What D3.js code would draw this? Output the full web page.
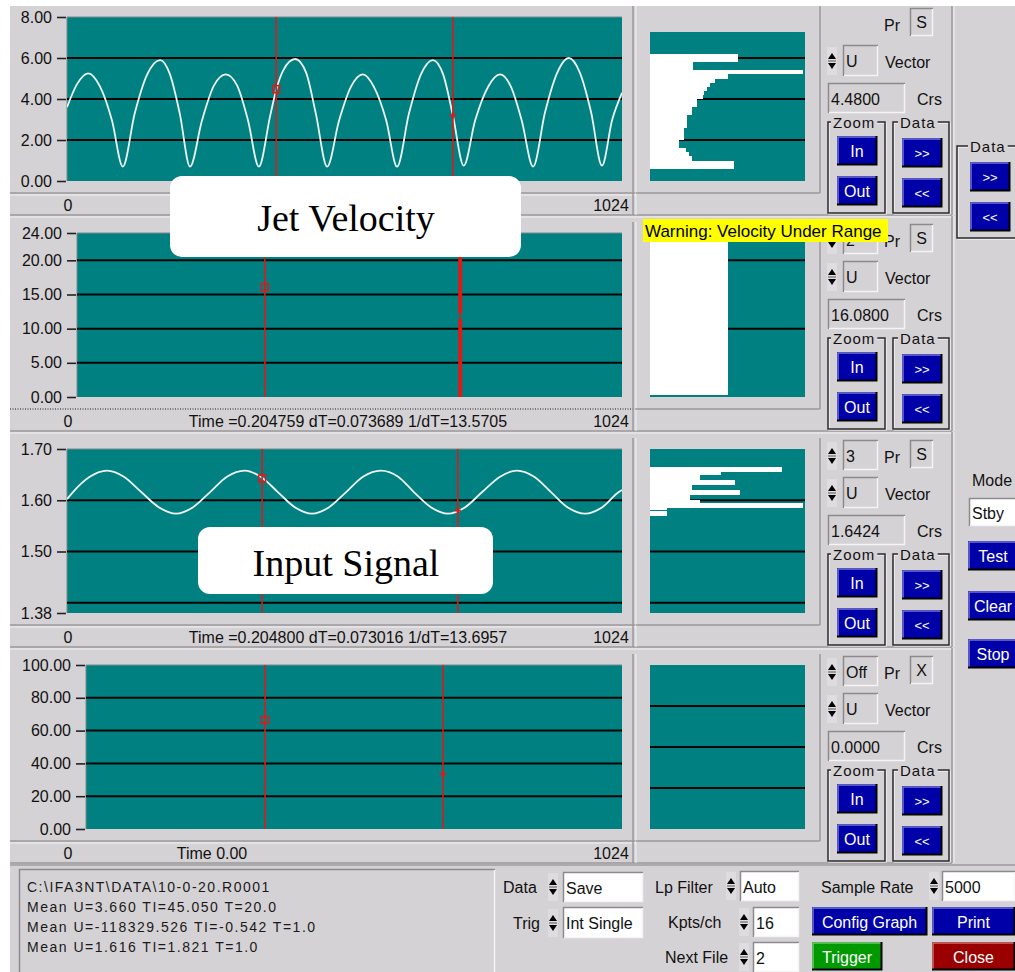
<!DOCTYPE html>
<html><head><meta charset="utf-8">
<script src="https://cdn.jsdelivr.net/npm/d3@7"></script>
<style>
body{margin:0;background:#fff;}
svg text{font-family:"Liberation Sans",Arial,sans-serif;}
</style></head><body>
<svg id="c" width="1015" height="972"></svg>
<script>
// ---------- DATA ----------
const sampleDomain = [0, 1024];
const jetSamples = [0,18,39,61,83,103,125,148,172,190,208,227,249,271,293,314,334,354,375,386,399,421,441,459,480,502,524,546,566,589,609,631,653,675,694,712,732,753,777,799,819,839,860,882,904,926,946,967,987,1006,1024];
const jetVelocity = [3.6,4.7,5.25,4.6,2.95,0.7,3.3,5.2,5.9,5.2,3.3,0.7,2.95,4.65,5.2,4.65,2.95,0.7,3.2,4.45,5.4,5.95,5.3,3.3,0.7,2.95,4.6,5.2,4.6,2.95,0.7,3.3,5.2,5.9,5.2,3.2,0.75,2.95,4.6,5.2,4.6,2.95,0.7,3.35,5.25,6.0,5.3,3.35,0.75,3.0,4.3];
const inputSamples = [0,11,42,74,105,137,170,201,232,264,295,328,360,389,421,452,483,515,546,579,611,640,672,703,734,766,799,830,862,893,924,956,987,1018,1024];
const inputSignal = [1.602,1.616,1.646,1.658,1.646,1.616,1.586,1.574,1.586,1.616,1.646,1.658,1.644,1.616,1.586,1.574,1.586,1.616,1.646,1.658,1.646,1.616,1.586,1.574,1.586,1.616,1.646,1.658,1.646,1.616,1.586,1.574,1.586,1.616,1.620];

const yDomains = [[0,8],[0,24],[1.38,1.70],[0,100]];
const yTickValues = [[0,2,4,6,8],[0,5,10,15,20,24],[1.38,1.5,1.6,1.7],[0,20,40,60,80,100]];
const gridValues = [[2,4,6],[5,10,15,20],[1.4,1.5,1.6],[20,40,60,80]];
const histGridValues = [[2,4,6],[10,20],[1.4,1.5,1.6],[25,50,75]];
const histDomains = [[0,8],[0,24],[1.38,1.70],[0,100]];
const xTickValues = [0, 1024];

const cursorA = [386, 353, 360, 342];
const cursorAValue = [4.48, 16.08, 1.6424, 66.5];
const cursorB = [712, 720, 721, 682];
const cursorBValue = [3.2, null, 1.58, 33.5];
const cursorB2Thick = [[0, 11.4], [12.2, 20.6]];

const hist1BinStart = [0.6,0.8,1.0,1.2,1.4,1.6,1.8,2.0,2.2,2.4,2.6,2.8,3.0,3.2,3.4,3.6,3.8,4.0,4.2,4.4,4.6,4.8,5.0,5.2,5.4,5.6,5.8,6.0];
const hist1Counts = [54,54,27,25,23,19,19,22,22,22,24,24,24,27,27,30,30,34,35,37,39,42,50,99,28,28,57,57];
const hist1BinWidth = 0.2;
const hist2BinStart = [0.3];
const hist2BinEnd = [24];
const hist2Counts = [50];
const hist3BinStart = [1.570,1.575,1.580,1.585,1.590,1.595,1.600,1.605,1.610,1.615,1.620,1.625,1.630,1.635,1.640,1.645,1.650,1.655,1.660];
const hist3Counts = [11,11,11,99,99,32,26,26,58,58,27,27,55,55,32,32,46,85,85];
const hist3BinWidth = 0.005;

const timeLabels = ["", "Time =0.204759 dT=0.073689  1/dT=13.5705", "Time =0.204800 dT=0.073016  1/dT=13.6957", "Time 0.00"];
const channelNumbers = [null, "2", "3", "Off"];
const prFlags = ["S", "S", "S", "X"];
const cursorReadouts = ["4.4800", "16.0800", "1.6424", "0.0000"];
const statusLines = ["C:\\IFA3NT\\DATA\\10-0-20.R0001", "Mean U=3.660 TI=45.050 T=20.0", "Mean U=-118329.526 TI=-0.542 T=1.0", "Mean U=1.616 TI=1.821 T=1.0"];

// ---------- DRAW ----------
const svg = d3.select("#c");
const BG = "#d5d2d5", TEAL = "#008080", RED = "#e01818", BLUE = "#0000a8";
const SERIF = "'Liberation Serif','Times New Roman',serif";
svg.append("rect").attr("width",1015).attr("height",972).attr("fill","#fff");
svg.append("rect").attr("x",10).attr("y",6).attr("width",1005).attr("height",966).attr("fill",BG);

function hline(x1,x2,y,c,w,dash){const l=svg.append("line").attr("x1",x1).attr("x2",x2).attr("y1",y).attr("y2",y).attr("stroke",c).attr("stroke-width",w||1); if(dash) l.attr("stroke-dasharray",dash); return l;}
function vline(x,y1,y2,c,w){return svg.append("line").attr("x1",x).attr("x2",x).attr("y1",y1).attr("y2",y2).attr("stroke",c).attr("stroke-width",w||1);}
function txt(x,y,s,opt){opt=opt||{};const t=svg.append("text").attr("x",x).attr("y",y).attr("dominant-baseline","central").attr("text-anchor",opt.anchor||"start").attr("font-size",opt.size||16).attr("fill",opt.fill||"#111").attr("letter-spacing",opt.ls||0).text(s); if(opt.family) t.style("font-family",opt.family); return t;}
function field(x,y,w,h,s,fill){
  svg.append("rect").attr("x",x).attr("y",y).attr("width",w).attr("height",h).attr("fill",fill||BG);
  svg.append("path").attr("d",`M${x+0.5},${y+h}V${y+0.5}H${x+w}`).attr("fill","none").attr("stroke","#8c8a8c").attr("stroke-width",1.5);
  svg.append("path").attr("d",`M${x+1},${y+h-0.5}H${x+w-0.5}V${y+1}`).attr("fill","none").attr("stroke","#f4f4f4").attr("stroke-width",1.5);
  if(s!=null) txt(x+3,y+h/2+1,s);
}
function button(x,y,w,h,s,fill,size){
  svg.append("rect").attr("x",x).attr("y",y).attr("width",w).attr("height",h).attr("fill",fill);
  svg.append("path").attr("d",`M${x+1},${y+h-1}V${y+1}H${x+w-1}`).attr("fill","none").attr("stroke","rgba(255,255,255,0.45)").attr("stroke-width",1.5);
  svg.append("path").attr("d",`M${x},${y+h-0.5}H${x+w-0.5}V${y}`).attr("fill","none").attr("stroke","#000").attr("stroke-width",2);
  txt(x+w/2,y+h/2+1,s,{anchor:"middle",fill:"#fff",size:size||16});
}
function spinner(cx,cy){
  svg.append("rect").attr("x",cx-5).attr("y",cy-14).attr("width",10).attr("height",28).attr("fill","#dedcde");
  svg.append("path").attr("d",`M${cx-4},${cy-2}L${cx},${cy-8}L${cx+4},${cy-2}Z`).attr("fill","#000");
  svg.append("path").attr("d",`M${cx-4},${cy+2}L${cx},${cy+8}L${cx+4},${cy+2}Z`).attr("fill","#000");
  hline(cx-4,cx+4,cy,"#555",1);
}
function group(x,y,w,h,title,tx){
  svg.append("rect").attr("x",x+1).attr("y",y+1).attr("width",w).attr("height",h).attr("fill","none").attr("stroke","#fff").attr("stroke-width",1);
  svg.append("rect").attr("x",x).attr("y",y).attr("width",w).attr("height",h).attr("fill","none").attr("stroke","#2a2a2a").attr("stroke-width",1.5);
  const t = txt(tx,y,title,{size:15,ls:1});
  const bb = t.node().getBBox();
  svg.insert("rect", () => t.node()).attr("x",bb.x-2).attr("y",y-3).attr("width",bb.width+4).attr("height",7).attr("fill",BG);
}

for(let i=0;i<4;i++){
  const off = 216*i;
  const left = [67,77,67,86][i];
  const x = d3.scaleLinear().domain(sampleDomain).range([left,622]);
  const y = d3.scaleLinear().domain(yDomains[i]).range([off+181, off+17]);

  // panel frame lines
  if(i===1) hline(10,636,off+193,"#555",1.5,"1,1.5"); else { hline(10,636,off+193,"#9a989a",1.5); hline(10,636,off+195,"#f2f2f2",1); }
  hline(10,952,off+215,"#9a989a",1.5); hline(10,952,off+217,"#f2f2f2",1);
  vline(633,off+6,off+215,"#9a989a",1.5); vline(636,off+6,off+215,"#f2f2f2",1);
  vline(820,off+6,off+193,"#9a989a",1.5); hline(636,820,off+193,"#9a989a",1.5);
  vline(952,off+(i===0?6:0),off+215,"#9a989a",1.5); vline(954,off+(i===0?6:0),off+215,"#f2f2f2",1);

  // plot area
  svg.append("rect").attr("x",left).attr("y",off+17).attr("width",622-left).attr("height",164).attr("fill",TEAL);
  svg.append("path").attr("d",`M${left},${off+181}V${off+17}H${622}`).attr("fill","none").attr("stroke","#7a8a8a").attr("stroke-width",1);
  const g = svg.append("g");
  g.selectAll("line.grid").data(gridValues[i]).join("line").attr("x1",left).attr("x2",622)
    .attr("y1",d=>y(d)).attr("y2",d=>y(d)).attr("stroke","#050505").attr("stroke-width",2);

  // y axis
  const ax = svg.append("g").attr("transform",`translate(${left-1},0)`)
    .call(d3.axisLeft(y).tickValues(yTickValues[i]).tickFormat(d3.format(".2f")).tickSize(9).tickPadding(5));
  ax.select(".domain").remove();
  ax.selectAll(".tick line").attr("stroke","#222").attr("stroke-width",1.6);
  ax.selectAll(".tick text").attr("font-size",16).attr("fill","#111");

  // x labels row
  const xl = d3.scaleLinear().domain(sampleDomain).range([68,611]);
  svg.selectAll(null).data(xTickValues).join("text").attr("x",d=>xl(d)).attr("y",off+205).attr("dominant-baseline","central")
    .attr("text-anchor","middle").attr("font-size",16).attr("fill","#111").text(d=>d);
  if(timeLabels[i]) txt(i===3?212:348, off+205, timeLabels[i], {anchor:"middle"});

  // clip
  const cid = "clip"+i;
  svg.append("clipPath").attr("id",cid).append("rect").attr("x",left).attr("y",off+17).attr("width",622-left).attr("height",164);
  const line = d3.line().x(d=>x(d[0])).y(d=>y(d[1])).curve(d3.curveMonotoneX);
  if(i===0) svg.append("path").attr("clip-path",`url(#${cid})`).datum(d3.zip(jetSamples,jetVelocity)).attr("d",line).attr("fill","none").attr("stroke","#eef4f2").attr("stroke-width",1.8);
  if(i===2) svg.append("path").attr("clip-path",`url(#${cid})`).datum(d3.zip(inputSamples,inputSignal)).attr("d",line).attr("fill","none").attr("stroke","#eef4f2").attr("stroke-width",1.8);

  // cursors
  vline(x(cursorA[i]),off+17,off+181,RED,1.6);
  svg.append("rect").attr("x",x(cursorA[i])-3.5).attr("y",y(cursorAValue[i])-3.5).attr("width",7).attr("height",7)
    .attr("fill","none").attr("stroke",RED).attr("stroke-width",1.5);
  vline(x(cursorB[i]),off+17,off+181,RED,1.6);
  if(cursorBValue[i]!=null){
    const bx=x(cursorB[i]), by=y(cursorBValue[i]);
    svg.append("path").attr("d",`M${bx-3},${by}H${bx+3}M${bx},${by-3}V${by+3}`).attr("stroke",RED).attr("stroke-width",2);
  } else {
    svg.selectAll(null).data(cursorB2Thick).join("rect").attr("x",x(cursorB[i])-2).attr("width",4)
      .attr("y",d=>y(d[1])).attr("height",d=>y(d[0])-y(d[1])).attr("fill",RED);
  }

  // histogram
  const hTop = i===0 ? off+32 : off+17;
  const hx = d3.scaleLinear().domain([0,100]).range([0,155]);
  const hy = d3.scaleLinear().domain(histDomains[i]).range([off+181, off+17]);
  svg.append("rect").attr("x",650).attr("y",hTop).attr("width",155).attr("height",off+181-hTop).attr("fill",TEAL);
  svg.selectAll(null).data(histGridValues[i]).join("line").attr("x1",650).attr("x2",805)
    .attr("y1",d=>hy(d)).attr("y2",d=>hy(d)).attr("stroke","#050505").attr("stroke-width",2);
  let bins = [];
  if(i===0) bins = hist1BinStart.map((b,k)=>({lo:b,hi:b+hist1BinWidth,c:hist1Counts[k]}));
  if(i===1) bins = hist2BinStart.map((b,k)=>({lo:b,hi:hist2BinEnd[k],c:hist2Counts[k]}));
  if(i===2) bins = hist3BinStart.map((b,k)=>({lo:b,hi:b+hist3BinWidth,c:hist3Counts[k]}));
  const yTopOf = d => Math.round(Math.max(hTop,hy(d.hi)));
  svg.selectAll(null).data(bins).join("rect").attr("x",650).attr("y",yTopOf).attr("width",d=>Math.round(hx(d.c)))
    .attr("height",d=>Math.round(hy(d.lo))-yTopOf(d)).attr("fill","#fff").attr("shape-rendering","crispEdges");

  // controls
  if(channelNumbers[i]!=null){ spinner(832,off+24); field(843,off+8,35,30,channelNumbers[i]); }
  txt(884,off+25,"Pr");
  field(910,off+8,23,28,null); txt(921.5,off+22,prFlags[i],{anchor:"middle"});
  spinner(832,off+61); field(843,off+45,35,31,"U"); 
  txt(885,off+62,"Vector");
  field(828,off+83,77,30,cursorReadouts[i]);
  txt(917,off+99,"Crs");
  group(828,off+122,57,91,"Zoom",833);
  button(837,off+136,40,29,"In",BLUE);
  button(837,off+176,40,29,"Out",BLUE);
  group(893,off+122,56,91,"Data",900);
  button(902,off+138,40,29,">>",BLUE,13);
  button(902,off+178,40,29,"<<",BLUE,13);
}

// far-right controls
group(957,146,70,92,"Data",970);
button(970,162,40,29,">>",BLUE,13);
button(970,202,40,29,"<<",BLUE,13);
txt(972,480,"Mode");
field(969,498,50,28,"Stby","#fff");
button(968,541,50,29,"Test",BLUE);
button(968,591,50,29,"Clear",BLUE);
button(968,639,50,29,"Stop",BLUE);

// callouts
svg.append("rect").attr("x",170).attr("y",176).attr("width",351).attr("height",81).attr("rx",12).attr("fill","#fff");
txt(346,218,"Jet Velocity",{anchor:"middle",size:38,family:SERIF,fill:"#000"});
svg.append("rect").attr("x",198).attr("y",527).attr("width",295).attr("height",67).attr("rx",12).attr("fill","#fff");
txt(346,563,"Input Signal",{anchor:"middle",size:38,family:SERIF,fill:"#000"});

// warning
svg.append("rect").attr("x",643).attr("y",219).attr("width",245).attr("height",23).attr("fill","#ffff00");
txt(645,231,"Warning: Velocity Under Range",{size:17,fill:"#000"});

// bottom area
hline(10,1015,865,"#9a989a",1.5);
field(19,869,476,110,null);
statusLines.forEach((s,k)=>txt(27,887+20*k,s,{size:14,ls:1.5,fill:"#1a1a1a"}));
txt(503,887,"Data"); spinner(553,887); field(563,872,80,30,"Save","#fff");
txt(513,923,"Trig"); spinner(553,923); field(563,907,80,31,"Int Single","#fff");
txt(655,887,"Lp Filter"); spinner(731,886); field(740,871,59,30,"Auto","#fff");
txt(668,922,"Kpts/ch"); spinner(744,922); field(753,907,46,30,"16","#fff");
txt(665,957,"Next File"); spinner(744,957); field(753,942,46,30,"2","#fff");
txt(821,887,"Sample Rate"); spinner(934,886); field(942,871,73,30,"5000","#fff");
button(812,907,115,28,"Config Graph",BLUE);
button(932,907,83,28,"Print",BLUE);
button(812,942,70,28,"Trigger","#009a00");
button(932,942,83,28,"Close","#9a0000");
</script>
</body></html>
